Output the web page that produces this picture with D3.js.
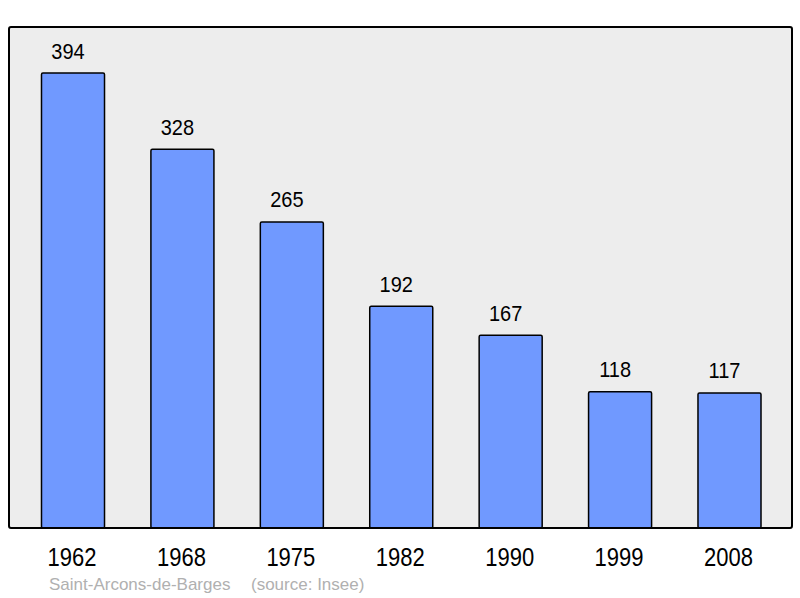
<!DOCTYPE html>
<html><head><meta charset="utf-8">
<script src="https://cdn.jsdelivr.net/npm/d3@7"></script>
<style>body{margin:0;background:#fff}svg{display:block}</style>
</head><body>
<script>
const years = ["1962","1968","1975","1982","1990","1999","2008"];
const population = [394,328,265,192,167,118,117];
const townName = "Saint-Arcons-de-Barges";
const sourceText = "(source: Insee)";

const W = 800, H = 598;
const svg = d3.select("body").append("svg").attr("width", W).attr("height", H);
const font = "'Liberation Sans', Arial, sans-serif";

const panel = {x0: 9, y0: 27, x1: 792, y1: 528};
svg.append("rect").attr("x", panel.x0).attr("y", panel.y0)
  .attr("width", panel.x1 - panel.x0).attr("height", panel.y1 - panel.y0)
  .attr("rx", 2).attr("fill", "#ededed").attr("stroke", "none");

const x = d3.scaleBand().domain(years).range([18.3, 784.2]).paddingInner(0.424).paddingOuter(0.212);
const y = d3.scaleLinear().domain([0, 394]).range([528, 73]);

const data = years.map((yr, i) => ({yr, v: population[i]}));

svg.selectAll("rect.bar").data(data).join("rect").attr("class", "bar")
  .attr("x", d => x(d.yr)).attr("y", d => y(d.v))
  .attr("width", x.bandwidth()).attr("height", d => y(0) - y(d.v))
  .attr("rx", 1.5)
  .attr("fill", "#7099ff").attr("stroke", "#000").attr("stroke-width", 1.5);

svg.append("rect").attr("x", panel.x0).attr("y", panel.y0)
  .attr("width", panel.x1 - panel.x0).attr("height", panel.y1 - panel.y0)
  .attr("rx", 2).attr("fill", "none").attr("stroke", "#000").attr("stroke-width", 2);

svg.selectAll("text.val").data(data).join("text").attr("class", "val")
  .attr("transform", d => `translate(${x(d.yr) + x.bandwidth() / 2 - 5},${y(d.v) - 14.5}) scale(1,1.08)`)
  .attr("text-anchor", "middle").attr("font-family", font).attr("font-size", 20)
  .attr("fill", "#000").text(d => d.v);

const xAxis = d3.axisBottom(x).tickSize(0).tickPadding(0);
const gx = svg.append("g").attr("transform", "translate(-1,566)").call(xAxis);
gx.select(".domain").remove();
gx.selectAll("text").attr("font-family", font).attr("font-size", 22).attr("fill", "#000")
  .attr("dy", 0).attr("y", 0).attr("transform", "scale(1,1.16)");

svg.append("text").attr("x", 49).attr("y", 590).attr("font-family", font).attr("font-size", 17)
  .attr("fill", "#b0b0b0").text(townName);
svg.append("text").attr("x", 251).attr("y", 590).attr("font-family", font).attr("font-size", 17)
  .attr("fill", "#b0b0b0").text(sourceText);
</script>
</body></html>
